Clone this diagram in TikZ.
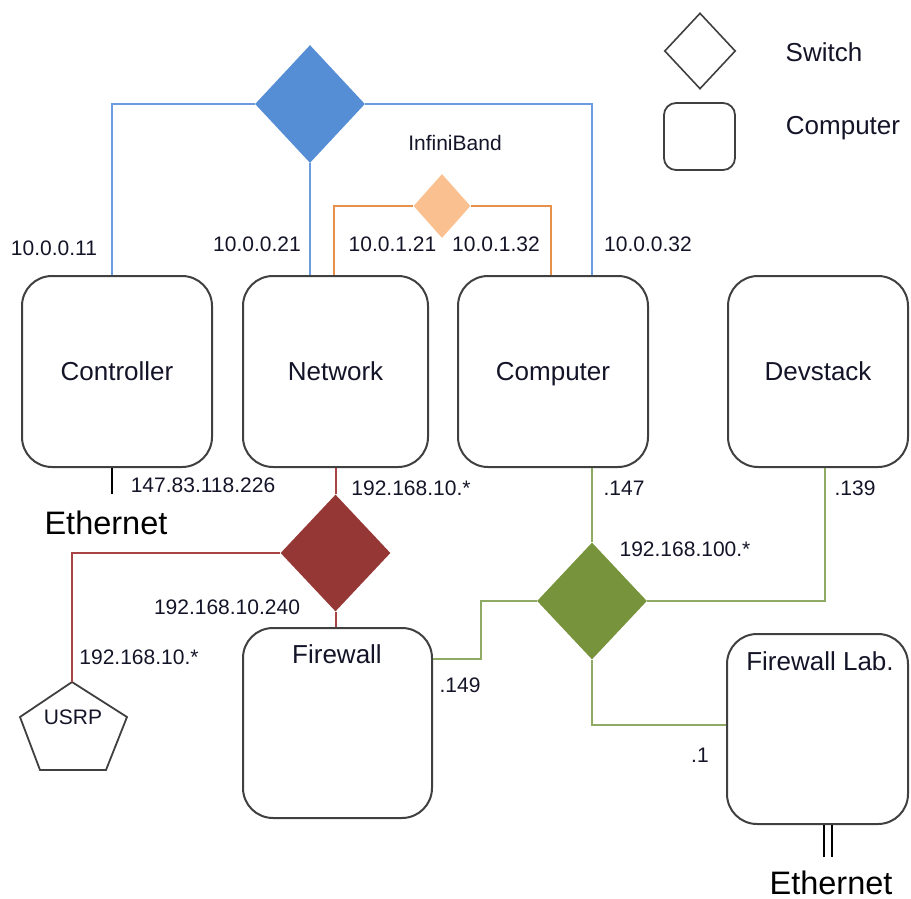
\documentclass[tikz,border=0pt]{standalone}
\usepackage{fontspec}
\setmainfont{Liberation Sans}
\usetikzlibrary{shapes.geometric,calc}
\definecolor{blfill}{HTML}{558ED5}
\definecolor{blline}{HTML}{6C9BE0}
\definecolor{orfill}{HTML}{FAC08F}
\definecolor{orline}{HTML}{E8914A}
\definecolor{rdfill}{HTML}{953735}
\definecolor{rdline}{HTML}{A84444}
\definecolor{grfill}{HTML}{77933C}
\definecolor{grline}{HTML}{8FAA62}
\definecolor{boxline}{HTML}{404040}
\definecolor{txt}{HTML}{141428}
\begin{document}
\begin{tikzpicture}[x=0.5pt,y=-0.5pt,
  small/.style={inner sep=0pt,text=txt,font=\fontsize{10.5}{12}\selectfont},
  medium/.style={inner sep=0pt,text=txt,font=\fontsize{13}{15}\selectfont},
  large/.style={inner sep=0pt,text=black,font=\fontsize{16.25}{18}\selectfont},
  pcbox/.style={draw=boxline,line width=1pt,rounded corners=15pt,inner sep=0pt,
    text depth=0pt,text=txt,font=\fontsize{13}{15}\selectfont},
  swnode/.style={diamond,inner sep=0pt,draw=none},
  bl/.style={draw=blline,line width=1pt},
  orl/.style={draw=orline,line width=1pt},
  rdl/.style={draw=rdline,line width=1pt},
  grl/.style={draw=grline,line width=1pt},
  blk/.style={draw=black,line width=0.9pt}]
\useasboundingbox (0,0) rectangle (911,899);

% legend
\node[swnode,draw=boxline,line width=0.8pt,minimum width=35.5pt,minimum height=38pt] (lgsw) at (700,51) {};
\node[medium] (lgswt) at (824,52) {Switch};
\node[pcbox,line width=0.9pt,rounded corners=6pt,minimum width=35.5pt,minimum height=33.5pt] (lgpc) at (699.5,136.5) {};
\node[medium] (lgpct) at (843,128) {Computer};

% switches
\node[swnode,fill=blfill,minimum width=55pt,minimum height=59pt] (sw1) at (310,104) {};
\node[swnode,fill=orfill,minimum width=28.5pt,minimum height=32pt] (ib) at (442,206) {};
\node[small] (ibt) at (455,143) {InfiniBand};
\node[swnode,fill=rdfill,minimum width=55pt,minimum height=58.5pt] (rd) at (335.5,553) {};
\node[swnode,fill=grfill,minimum width=55pt,minimum height=58.5pt] (gr) at (592,601) {};

% computers
\node[pcbox,minimum width=95pt,minimum height=95.5pt] (ctrl) at (117,371.5) {Controller};
\node[pcbox,minimum width=92.5pt,minimum height=95.5pt] (net) at (335.5,371.5) {Network};
\node[pcbox,minimum width=95pt,minimum height=95.5pt] (comp) at (553,371.5) {Computer};
\node[pcbox,minimum width=90pt,minimum height=95.5pt] (dev) at (818,371.5) {Devstack};
\node[pcbox,minimum width=94.5pt,minimum height=95pt] (fw) at (337.5,723) {};
\node[medium] (fwt) at (337,654) {Firewall};
\node[pcbox,minimum width=90.5pt,minimum height=95pt] (fwl) at (817.5,729) {};
\node[medium] (fwlt) at (820,661) {Firewall Lab.};

% USRP pentagon
\coordinate (usrp) at (72,682);
\draw[draw=boxline,line width=0.9pt] (usrp) -- (127,717) -- (106,770) -- (40,770) -- (20,717) -- cycle;
\node[small] (usrpt) at (73,717) {USRP};

% InfiniBand-side links (blue)
\draw[bl] (sw1.west) -| ([xshift=-2.5pt]ctrl.north);
\draw[bl] (sw1.east) -| ([xshift=19.5pt]comp.north);
\draw[bl] (sw1.south) -- (sw1.south |- net.north);
% orange
\draw[orl] (ib.west) -| ([xshift=-0.75pt]net.north);
\draw[orl] (ib.east) -| ([xshift=-1pt]comp.north);
% red
\draw[rdl] (net.south) -- (rd.north);
\draw[rdl] (rd.south) -- (rd.south |- fw.north);
\draw[rdl] (rd.west) -| (usrp);
% green
\draw[grl] (gr.north) -- (gr.north |- comp.south);
\draw[grl] (gr.east) -| ([xshift=3.5pt]dev.south);
\draw[grl] (gr.west) -- ++(-28pt,0) |- ([yshift=32pt]fw.east);
\draw[grl] (gr.south) |- ([yshift=2pt]fwl.west);
% ethernet stubs
\draw[blk] ([xshift=-2.5pt]ctrl.south) -- ++(0,-13pt);
\draw[blk] ([xshift=3.25pt]fwl.south) -- ++(0,-16pt);
\draw[blk] ([xshift=7.25pt]fwl.south) -- ++(0,-16pt);

% address labels
\node[small] (a1) at (54,248) {10.0.0.11};
\node[small] (a2) at (257,244) {10.0.0.21};
\node[small] (a3) at (392.5,244) {10.0.1.21};
\node[small] (a4) at (496,244) {10.0.1.32};
\node[small] (a5) at (648,244) {10.0.0.32};
\node[small] (a6) at (203,485) {147.83.118.226};
\node[large] (eth1) at (106,523) {Ethernet};
\node[small] (a7) at (411,488) {192.168.10.*};
\node[small] (a8) at (227,607) {192.168.10.240};
\node[small] (a9) at (139,657) {192.168.10.*};
\node[small] (a10) at (624,488) {.147};
\node[small] (a11) at (855,488) {.139};
\node[small] (a12) at (685,549) {192.168.100.*};
\node[small] (a13) at (460,685) {.149};
\node[small] (a14) at (700,755) {.1};
\node[large] (eth2) at (831,883) {Ethernet};
\end{tikzpicture}
\end{document}
